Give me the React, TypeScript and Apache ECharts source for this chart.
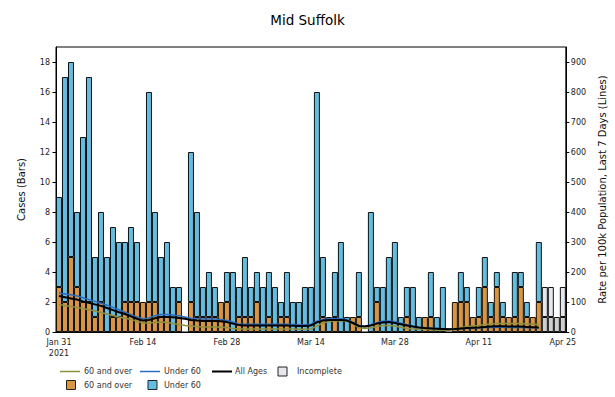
import React, { useEffect, useRef } from "react";
import * as echarts from "echarts";

// Daily counts, Jan 31 2021 onward (index 0 = Jan 31)
const over60Cases = [
  3, 2, 5, 3, 2, 2, 1, 2, 0, 1, 1, 2, 2, 2, 2, 2, 2, 1, 1, 0,
  2, 0, 2, 1, 1, 1, 1, 2, 2, 0, 1, 1, 1, 2, 0, 1, 0, 1, 1, 0,
  0, 0, 0, 0, 1, 0, 1, 0, 0, 1, 1, 0, 0, 2, 0, 0, 0, 0, 1, 0,
  0, 1, 1, 0, 0, 0, 2, 2, 2, 1, 1, 3, 1, 3, 1, 1, 1, 3, 1, 1,
  2,
];
const under60Cases = [
  6, 15, 13, 5, 11, 15, 4, 6, 5, 6, 5, 4, 5, 4, 0, 14, 6, 4, 5, 3,
  1, 0, 10, 7, 2, 3, 2, 0, 2, 4, 2, 4, 2, 2, 3, 3, 3, 1, 3, 2,
  2, 3, 3, 16, 4, 1, 3, 6, 1, 0, 3, 0, 8, 1, 3, 5, 6, 1, 2, 3,
  1, 0, 3, 1, 3, 0, 0, 2, 1, 0, 2, 2, 1, 1, 1, 0, 3, 1, 1, 0,
  4,
];
// Incomplete days (Apr 21 - Apr 25)
const incompleteLow = [1, 1, 1, 1];
const incompleteHigh = [2, 2, 0, 2];

// 7-day rates per 100k (right axis)
const rate60Plus = [
  92, 88, 85, 82, 78, 74, 70, 65, 60, 55, 50, 46, 42, 36, 30, 30, 32, 33, 32, 28,
  25, 22, 20, 18, 17, 17, 17, 16, 15, 12, 10, 10, 10, 10, 10, 10, 10, 10, 10, 10,
  9, 9, 10, 20, 30, 35, 37, 37, 36, 28, 14, 12, 14, 18, 22, 22, 20, 16, 12, 10,
  10, 9, 8, 7, 6, 6, 10, 14, 18, 20, 22, 25, 27, 28, 28, 28, 28, 28, 27, 26,
  25,
];
const rateUnder60 = [
  130, 127, 124, 120, 114, 108, 102, 96, 89, 82, 74, 66, 58, 50, 44, 47, 54, 58, 58, 57,
  54, 50, 46, 44, 43, 43, 43, 42, 38, 33, 27, 26, 26, 26, 26, 26, 26, 26, 26, 25,
  24, 24, 26, 36, 42, 44, 44, 44, 41, 32, 22, 19, 24, 31, 36, 37, 34, 29, 24, 19,
  16, 14, 13, 12, 11, 10, 10, 11, 12, 12, 13, 15, 15, 16, 16, 15, 15, 15, 14, 14,
  13,
];
const rateAllAges = [
  120, 116, 112, 108, 102, 97, 92, 87, 80, 73, 66, 60, 52, 44, 38, 40, 46, 50, 50, 49,
  47, 44, 40, 38, 37, 37, 37, 36, 33, 28, 23, 22, 22, 22, 22, 22, 22, 22, 22, 21,
  20, 20, 22, 32, 38, 40, 40, 40, 38, 30, 20, 18, 22, 28, 32, 33, 30, 26, 22, 18,
  15, 13, 12, 11, 10, 9, 10, 12, 13, 14, 15, 17, 18, 19, 19, 18, 18, 18, 17, 16,
  15,
];

const tickLabels = ["Jan 31\n2021", "Feb 14", "Feb 28", "Mar 14", "Mar 28", "Apr 11", "Apr 25"];
const leftTicks = [0, 2, 4, 6, 8, 10, 12, 14, 16, 18];
const rightTicks = [0, 100, 200, 300, 400, 500, 600, 700, 800, 900];

const DAYS = 85;
const MONTHS = ["Jan", "Feb", "Mar", "Apr"];
function buildCategories(): string[] {
  const out: string[] = [];
  const start = new Date(2021, 0, 31);
  for (let i = 0; i < DAYS; i++) {
    const d = new Date(start.getFullYear(), start.getMonth(), start.getDate() + i);
    out.push(MONTHS[d.getMonth()] + " " + d.getDate());
  }
  return out;
}

const nz = (v: number) => (v === 0 ? null : v);

export default function App() {
  const ref = useRef<HTMLDivElement>(null);
  useEffect(() => {
    if (!ref.current) return;
    const chart = echarts.init(ref.current, undefined, { renderer: "svg" });
    const categories = buildCategories();
    const nComplete = over60Cases.length;
    const pad = (arr: (number | null)[]) => {
      const out: (number | null)[] = arr.slice();
      while (out.length < DAYS) out.push(null);
      return out;
    };
    const incLow: (number | null)[] = new Array(nComplete).fill(null).concat(incompleteLow.map(nz));
    const incHigh: (number | null)[] = new Array(nComplete).fill(null).concat(incompleteHigh.map(nz));
    const font = "DejaVu Sans";
    const barBorder = { borderColor: "#111", borderWidth: 1 };

    const legendItems: any[] = [];
    const lg = (x1: number, y: number, color: string, w: number) => ({
      type: "line",
      shape: { x1, y1: y, x2: x1 + 20, y2: y },
      style: { stroke: color, lineWidth: w },
    });
    const lbox = (x: number, y: number, color: string) => ({
      type: "rect",
      shape: { x, y: y - 4.5, width: 9, height: 9 },
      style: { fill: color, stroke: "#222", lineWidth: 1 },
    });
    const ltxt = (x: number, y: number, t: string) => ({
      type: "text",
      x,
      y,
      style: { text: t, fontFamily: font, fontSize: 8, fill: "#333", verticalAlign: "middle" },
    });
    legendItems.push(
      lg(60, 371.5, "#8f8f3c", 1.5), ltxt(84, 371.5, "60 and over"),
      lg(140, 371.5, "#2a6cc4", 1.5), ltxt(164, 371.5, "Under 60"),
      lg(212, 371.5, "#000", 2), ltxt(235, 371.5, "All Ages"),
      lbox(278, 371.5, "#e6e6ee"), ltxt(297, 371.5, "Incomplete"),
      lbox(66.5, 385, "#d9963f"), ltxt(84, 385, "60 and over"),
      lbox(148, 385, "#62bde0"), ltxt(164, 385, "Under 60")
    );

    chart.setOption({
      animation: false,
      backgroundColor: "#fff",
      title: {
        text: "Mid Suffolk",
        left: "center",
        top: 8,
        textStyle: { fontFamily: font, fontSize: 13.5, fontWeight: "normal", color: "#000" },
      },
      grid: {
        left: 56,
        right: 45,
        top: 47,
        bottom: 65,
        show: true,
        borderColor: "#000",
        borderWidth: 1,
        backgroundColor: "transparent",
      },
      xAxis: {
        type: "category",
        data: categories,
        boundaryGap: true,
        axisLine: { lineStyle: { color: "#000", width: 1 } },
        axisTick: { interval: 13, alignWithLabel: true, length: 3.5, lineStyle: { color: "#000" } },
        axisLabel: {
          interval: 13,
          margin: 5,
          fontFamily: font,
          fontSize: 8,
          color: "#222",
          lineHeight: 11,
          formatter: (_v: string, idx: number) => tickLabels[Math.round(idx / 14)] ?? "",
        },
        splitLine: { show: false },
      },
      yAxis: [
        {
          type: "value",
          min: 0,
          max: 19,
          interval: 2,
          name: "Cases (Bars)",
          nameLocation: "middle",
          nameGap: 30,
          nameTextStyle: { fontFamily: font, fontSize: 10, color: "#111" },
          axisLine: { show: true, lineStyle: { color: "#000" } },
          axisTick: { show: true, length: 3.5, lineStyle: { color: "#000" } },
          axisLabel: {
            fontFamily: font,
            fontSize: 8,
            color: "#222",
            margin: 6,
            showMaxLabel: false,
            formatter: (v: number) => (leftTicks.indexOf(v) >= 0 ? String(v) : ""),
          },
          splitLine: { show: false },
        },
        {
          type: "value",
          min: 0,
          max: 950,
          interval: 100,
          name: "Rate per 100k Population, Last 7 Days (Lines)",
          nameLocation: "middle",
          nameGap: 30,
          nameTextStyle: { fontFamily: font, fontSize: 10, color: "#111" },
          axisLine: { show: true, lineStyle: { color: "#000" } },
          axisTick: { show: true, length: 3.5, lineStyle: { color: "#000" } },
          axisLabel: {
            fontFamily: font,
            fontSize: 8,
            color: "#222",
            margin: 5,
            showMaxLabel: false,
            formatter: (v: number) => (rightTicks.indexOf(v) >= 0 ? String(v) : ""),
          },
          splitLine: { show: false },
        },
      ],
      series: [
        {
          name: "60 and over",
          type: "bar",
          stack: "cases",
          barCategoryGap: "0%",
          data: pad(over60Cases.map(nz)),
          itemStyle: { color: "#d9963f", ...barBorder },
          z: 2,
        },
        {
          name: "Under 60",
          type: "bar",
          stack: "cases",
          barCategoryGap: "0%",
          data: pad(under60Cases.map(nz)),
          itemStyle: { color: "#62bde0", ...barBorder },
          z: 2,
        },
        {
          name: "Incomplete low",
          type: "bar",
          stack: "cases",
          barCategoryGap: "0%",
          data: incLow,
          itemStyle: { color: "#cfcfcf", ...barBorder },
          z: 2,
        },
        {
          name: "Incomplete",
          type: "bar",
          stack: "cases",
          barCategoryGap: "0%",
          data: incHigh,
          itemStyle: { color: "#e6e6ee", ...barBorder },
          z: 2,
        },
        {
          name: "60 and over rate",
          type: "line",
          yAxisIndex: 1,
          data: rate60Plus,
          symbol: "none",
          lineStyle: { color: "#8f8f3c", width: 1.5 },
          z: 3,
        },
        {
          name: "Under 60 rate",
          type: "line",
          yAxisIndex: 1,
          data: rateUnder60,
          symbol: "none",
          lineStyle: { color: "#2a6cc4", width: 1.5 },
          z: 4,
        },
        {
          name: "All Ages",
          type: "line",
          yAxisIndex: 1,
          data: rateAllAges,
          symbol: "none",
          lineStyle: { color: "#000", width: 2 },
          z: 5,
        },
      ],
      graphic: legendItems,
    });
    return () => chart.dispose();
  }, []);
  return <div ref={ref} style={{ width: 615, height: 397, position: "absolute", left: 0, top: 0 }} />;
}
